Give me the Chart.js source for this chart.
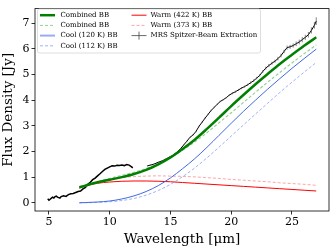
<!DOCTYPE html>
<html>
<head>
<meta charset="utf-8">
<script src="https://cdn.jsdelivr.net/npm/chart.js@4.4.1/dist/chart.umd.min.js"></script>
<style>
  html, body { margin: 0; padding: 0; background: #fff; }
  #wrap { width: 336px; height: 252px; position: relative; }
</style>
</head>
<body>
<div id="wrap"><canvas id="sed" width="336" height="252"></canvas></div>
<script>
// blackbody model grid (micron) and fluxes (Jy)
const bbWave = [7.5, 8, 9, 10, 11, 12, 13, 14, 15, 16, 17, 18, 19, 20, 21, 22, 23, 24, 25, 26, 27];
const combinedA = [0.60, 0.67, 0.80, 0.90, 1.00, 1.12, 1.28, 1.50, 1.77, 2.10, 2.46, 2.88, 3.32, 3.77, 4.20, 4.62, 5.02, 5.41, 5.77, 6.12, 6.45];
const combinedB = [0.58, 0.64, 0.82, 0.95, 1.07, 1.19, 1.34, 1.53, 1.76, 2.05, 2.37, 2.73, 3.12, 3.51, 3.91, 4.31, 4.70, 5.08, 5.45, 5.81, 6.15];
const cool120 = [0.00, 0.01, 0.03, 0.07, 0.15, 0.27, 0.44, 0.67, 0.97, 1.33, 1.72, 2.16, 2.63, 3.10, 3.56, 4.00, 4.43, 4.84, 5.24, 5.62, 5.99];
const cool112 = [0.00, 0.00, 0.02, 0.04, 0.09, 0.17, 0.30, 0.48, 0.72, 1.02, 1.36, 1.75, 2.17, 2.60, 3.03, 3.46, 3.88, 4.30, 4.70, 5.09, 5.47];
const warm422 = [0.58, 0.66, 0.76, 0.81, 0.84, 0.85, 0.85, 0.84, 0.82, 0.79, 0.76, 0.73, 0.70, 0.67, 0.64, 0.61, 0.58, 0.55, 0.52, 0.49, 0.46];
const warm373 = [0.57, 0.64, 0.80, 0.91, 0.98, 1.02, 1.04, 1.05, 1.04, 1.03, 1.01, 0.98, 0.95, 0.91, 0.88, 0.85, 0.82, 0.78, 0.75, 0.72, 0.68];

// MRS spectrum, short and long pieces
const specWave1 = [4.9, 5.0, 5.1, 5.2, 5.3, 5.4, 5.5, 5.6, 5.7, 5.8, 5.9, 6.0, 6.2, 6.4, 6.6, 6.8, 7.0, 7.2, 7.4, 7.6, 7.8, 8.0, 8.2, 8.4, 8.6, 8.8, 9.0, 9.2, 9.4, 9.6, 9.8, 10.0, 10.2, 10.4, 10.6, 10.8, 11.0, 11.2, 11.4, 11.6, 11.8, 11.9];
const specFlux1 = [0.16, 0.10, 0.14, 0.18, 0.22, 0.19, 0.24, 0.26, 0.22, 0.20, 0.18, 0.24, 0.27, 0.25, 0.32, 0.35, 0.36, 0.40, 0.44, 0.46, 0.54, 0.60, 0.72, 0.80, 0.90, 0.96, 1.05, 1.13, 1.22, 1.30, 1.35, 1.40, 1.44, 1.43, 1.46, 1.45, 1.47, 1.45, 1.49, 1.47, 1.40, 1.36];
const specWave2 = [13.1, 13.35, 13.6, 13.85, 14.1, 14.35, 14.6, 14.85, 15.1, 15.35, 15.6, 15.85, 16.1, 16.35, 16.6, 16.85, 17.1, 17.35, 17.6, 17.85, 18.1, 18.35, 18.6, 18.85, 19.1, 19.35, 19.6, 19.85, 20.1, 20.35, 20.6, 20.85, 21.1, 21.35, 21.6, 21.85, 22.1, 22.35, 22.6, 22.85, 23.1, 23.35, 23.6, 23.85, 24.1, 24.35, 24.6, 24.85, 25.1, 25.35, 25.6, 25.85, 26.1, 26.35, 26.6, 26.85, 27.0];
const specFlux2 = [1.44, 1.47, 1.50, 1.55, 1.60, 1.64, 1.70, 1.76, 1.82, 1.90, 2.00, 2.12, 2.26, 2.40, 2.55, 2.64, 2.78, 2.98, 3.14, 3.30, 3.45, 3.60, 3.72, 3.84, 3.95, 4.02, 4.10, 4.20, 4.27, 4.33, 4.40, 4.47, 4.53, 4.60, 4.68, 4.76, 4.86, 4.97, 5.12, 5.25, 5.35, 5.44, 5.52, 5.62, 5.74, 5.90, 6.05, 6.08, 6.13, 6.20, 6.27, 6.36, 6.45, 6.55, 6.72, 6.92, 7.08];
const specErr2 = [0.02, 0.02, 0.02, 0.02, 0.02, 0.02, 0.02, 0.02, 0.02, 0.02, 0.02, 0.02, 0.02, 0.02, 0.02, 0.02, 0.03, 0.03, 0.03, 0.03, 0.03, 0.03, 0.03, 0.03, 0.03, 0.03, 0.03, 0.03, 0.04, 0.04, 0.04, 0.04, 0.04, 0.04, 0.05, 0.05, 0.05, 0.05, 0.05, 0.06, 0.06, 0.06, 0.06, 0.07, 0.07, 0.07, 0.08, 0.08, 0.08, 0.09, 0.09, 0.10, 0.10, 0.11, 0.12, 0.13, 0.15];

const xTicks = [5, 10, 15, 20, 25];
const yTicks = [0, 1, 2, 3, 4, 5, 6, 7];
const seriesNames = ['Combined BB', 'Combined BB', 'Cool (120 K) BB', 'Cool (112 K) BB', 'Warm (422 K) BB', 'Warm (373 K) BB', 'MRS Spitzer-Beam Extraction'];

const pts = (xs, ys) => xs.map((x, i) => ({ x: x, y: ys[i] }));
const FONT = "'DejaVu Serif', serif";

function lineSet(data, color, width, dash, order) {
  return {
    data: data,
    borderColor: color,
    borderWidth: width,
    borderDash: dash || [],
    pointRadius: 0,
    fill: false,
    cubicInterpolationMode: 'monotone',
    order: order,
  };
}

// error bars on the long spectrum piece
const errorBars = {
  id: 'errorBars',
  afterDatasetsDraw(chart) {
    const { ctx, scales } = chart;
    ctx.save();
    ctx.strokeStyle = 'rgba(60,60,60,0.8)';
    ctx.lineWidth = 0.8;
    specWave2.forEach((w, i) => {
      const x = scales.x.getPixelForValue(w);
      const y1 = scales.y.getPixelForValue(specFlux2[i] - specErr2[i]);
      const y2 = scales.y.getPixelForValue(specFlux2[i] + specErr2[i]);
      ctx.beginPath();
      ctx.moveTo(x, y1);
      ctx.lineTo(x, y2);
      ctx.stroke();
    });
    ctx.restore();
  }
};

// frame + matplotlib style legend
const frameLegend = {
  id: 'frameLegend',
  afterDraw(chart) {
    const ctx = chart.ctx;
    const a = chart.chartArea;
    ctx.save();
    ctx.strokeStyle = '#000';
    ctx.lineWidth = 0.8;
    ctx.strokeRect(a.left, a.top, a.right - a.left, a.bottom - a.top);

    // legend box
    const bx = 37.5, by = 9, bw = 223, bh = 44, r = 2;
    ctx.beginPath();
    ctx.moveTo(bx + r, by);
    ctx.arcTo(bx + bw, by, bx + bw, by + bh, r);
    ctx.arcTo(bx + bw, by + bh, bx, by + bh, r);
    ctx.arcTo(bx, by + bh, bx, by, r);
    ctx.arcTo(bx, by, bx + bw, by, r);
    ctx.closePath();
    ctx.fillStyle = 'rgba(255,255,255,0.8)';
    ctx.fill();
    ctx.strokeStyle = '#d6d6d6';
    ctx.stroke();

    const styles = [
      { c: '#008000', w: 2.5, d: [] },
      { c: 'rgba(80,170,80,0.6)', w: 1, d: [3, 2] },
      { c: 'rgba(65,105,225,0.55)', w: 2, d: [] },
      { c: 'rgba(65,105,225,0.5)', w: 1, d: [3, 2] },
      { c: '#ff0000', w: 1, d: [] },
      { c: 'rgba(255,90,90,0.55)', w: 1, d: [3, 2] },
      { c: '#444', w: 0.8, d: [] },
    ];
    ctx.font = "7px " + FONT;
    ctx.textBaseline = 'middle';
    ctx.fillStyle = '#000';
    seriesNames.forEach((name, i) => {
      const col = i < 4 ? 0 : 1;
      const row = i < 4 ? i : i - 4;
      const hx = col === 0 ? 40 : 131.5;
      const tx = col === 0 ? 60.5 : 150.5;
      const y = 15.2 + row * 10.2;
      const s = styles[i];
      ctx.beginPath();
      ctx.setLineDash(s.d);
      ctx.strokeStyle = s.c;
      ctx.lineWidth = s.w;
      ctx.moveTo(hx, y);
      ctx.lineTo(hx + 15, y);
      ctx.stroke();
      ctx.setLineDash([]);
      if (i === 6) {
        ctx.beginPath();
        ctx.moveTo(hx + 7.5, y - 4);
        ctx.lineTo(hx + 7.5, y + 4);
        ctx.stroke();
      }
      ctx.fillStyle = '#000';
      ctx.fillText(name, tx, y);
    });
    ctx.restore();
  }
};

new Chart(document.getElementById('sed'), {
  type: 'line',
  data: {
    datasets: [
      lineSet(pts(bbWave, combinedA), '#008000', 2.5, [], 1),
      lineSet(pts(bbWave, combinedB), 'rgba(80,170,80,0.6)', 1.1, [3, 2], 2),
      lineSet(pts(bbWave, cool120), '#4169e1', 1, [], 3),
      lineSet(pts(bbWave, cool112), 'rgba(65,105,225,0.5)', 1, [3, 2], 4),
      lineSet(pts(bbWave, warm422), '#ff0000', 1, [], 5),
      lineSet(pts(bbWave, warm373), 'rgba(255,90,90,0.55)', 1, [3, 2], 6),
      Object.assign(lineSet(pts(specWave1, specFlux1), '#000', 1.5, [], 7), { cubicInterpolationMode: 'default', tension: 0 }),
      Object.assign(lineSet(pts(specWave2, specFlux2), '#000', 1, [], 8), { cubicInterpolationMode: 'default', tension: 0 }),
    ]
  },
  options: {
    responsive: false,
    animation: false,
    layout: { padding: { left: 0, right: 7, top: 6, bottom: 0 } },
    plugins: { legend: { display: false }, tooltip: { enabled: false } },
    scales: {
      x: {
        type: 'linear',
        min: 3.85,
        max: 28.05,
        afterBuildTicks: (s) => { s.ticks = xTicks.map(v => ({ value: v })); },
        afterFit: (s) => { s.height = 41; },
        grid: { drawOnChartArea: false, drawTicks: true, tickLength: 3.5, color: '#000', lineWidth: 0.8 },
        border: { display: false },
        ticks: { color: '#000', font: { family: FONT, size: 11 }, padding: 1, maxRotation: 0 },
        title: { display: true, text: 'Wavelength [μm]', color: '#000', font: { family: FONT, size: 13.5 }, padding: { top: 0, bottom: 4 } },
      },
      y: {
        min: -0.32,
        max: 7.57,
        afterBuildTicks: (s) => { s.ticks = yTicks.map(v => ({ value: v })); },
        afterFit: (s) => { s.width = 35; },
        grid: { drawOnChartArea: false, drawTicks: true, tickLength: 3.5, color: '#000', lineWidth: 0.8 },
        border: { display: false },
        ticks: { color: '#000', font: { family: FONT, size: 11 }, padding: 2 },
        title: { display: true, text: 'Flux Density [Jy]', color: '#000', font: { family: FONT, size: 13.5 }, padding: { top: 0, bottom: 0 } },
      }
    }
  },
  plugins: [errorBars, frameLegend]
});
</script>
</body>
</html>
